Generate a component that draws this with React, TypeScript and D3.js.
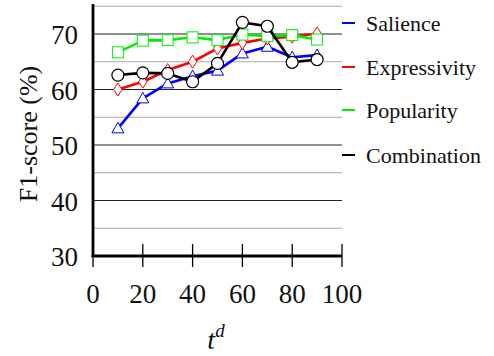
import React from "react";
import * as d3 from "d3";

const xs = [10, 20, 30, 40, 50, 60, 70, 80, 90];
const salience = [53.0, 58.4, 61.1, 62.4, 63.4, 66.5, 67.7, 65.8, 66.2];
const expressivity = [60.0, 61.4, 63.5, 65.0, 67.4, 68.4, 69.2, 69.5, 70.1];
const popularity = [66.7, 68.8, 68.9, 69.4, 68.9, 69.9, 69.6, 69.8, 69.0];
const combination = [62.6, 63.0, 62.9, 61.4, 64.7, 72.1, 71.4, 64.9, 65.4];
const xTicks = [0, 20, 40, 60, 80, 100];
const yTicks = [30, 40, 50, 60, 70];
const gridValues = [35, 40, 45, 50, 55, 60, 65, 70, 75];
const seriesNames = ["Salience", "Expressivity", "Popularity", "Combination"];

const colors = ["#0000ff", "#ff0000", "#00ee00", "#000000"];
const markers = ["triangle", "diamond", "square", "circle"];

export default function App() {
  const x = d3.scaleLinear().domain([0, 100]).range([93, 342]);
  const y = d3.scaleLinear().domain([30, 75]).range([256, 6.25]);
  const data = [salience, expressivity, popularity, combination];
  const line = d3
    .line<[number, number]>()
    .x((d) => x(d[0]))
    .y((d) => y(d[1]));
  const font = "Liberation Serif";

  const marker = (kind: string, cx: number, cy: number, color: string, key: string) => {
    if (kind === "circle")
      return <circle key={key} cx={cx} cy={cy} r={6} fill="white" stroke={color} strokeWidth={1.2} />;
    if (kind === "square")
      return <rect key={key} x={cx - 5.5} y={cy - 5.5} width={11} height={11} fill="white" stroke={color} strokeWidth={1} />;
    if (kind === "diamond")
      return (
        <path key={key} d={`M${cx},${cy - 6.5}L${cx + 4.2},${cy}L${cx},${cy + 6.5}L${cx - 4.2},${cy}Z`} fill="white" stroke={color} strokeWidth={1} />
      );
    return (
      <path key={key} d={`M${cx},${cy - 6}L${cx + 6},${cy + 4.5}L${cx - 6},${cy + 4.5}Z`} fill="white" stroke={color} strokeWidth={1} />
    );
  };

  const legendY = [23, 67, 110, 155];

  return (
    <svg width={494} height={356} style={{ position: "absolute", left: 0, top: 0, fontFamily: font }}>
      <rect width={494} height={356} fill="white" />
      {gridValues.map((v) => (
        <line
          key={v}
          x1={x(0)}
          x2={x(100)}
          y1={y(v)}
          y2={y(v)}
          stroke={v % 10 === 0 ? "#222" : "#aaa"}
          strokeWidth={1.2}
        />
      ))}
      <line x1={x(0)} x2={x(0)} y1={4} y2={257} stroke="black" strokeWidth={2.8} />
      <line x1={x(0) - 1.4} x2={x(100)} y1={256} y2={256} stroke="black" strokeWidth={2.8} />
      {xTicks.map((t) => (
        <line key={t} x1={x(t)} x2={x(t)} y1={t === 0 ? 256 : 244} y2={267} stroke="black" strokeWidth={1.3} />
      ))}
      {xTicks.map((t) => (
        <text key={t} x={x(t)} y={303} fontSize={27} fontFamily={font} textAnchor="middle" fill="#111">
          {t}
        </text>
      ))}
      {yTicks.map((t) => (
        <text key={t} x={78} y={y(t) + 10} fontSize={27} fontFamily={font} textAnchor="end" fill="#111">
          {t}
        </text>
      ))}
      <text
        transform={`translate(37,134) rotate(-90)`}
        fontSize={26}
        fontFamily={font}
        textAnchor="middle"
        fill="#111"
      >
        F1-score (%)
      </text>
      <text x={216} y={349} fontSize={28} fontFamily={font} textAnchor="middle" fill="#111">
        <tspan fontStyle="italic">t</tspan>
        <tspan fontStyle="italic" fontSize={19} dy={-12}>d</tspan>
      </text>
      {data.map((vals, i) => {
        const pts = xs.map((v, j) => [v, vals[j]] as [number, number]);
        return (
          <g key={i}>
            <path d={line(pts) || ""} fill="none" stroke={colors[i]} strokeWidth={2.6} strokeLinejoin="round" />
            {pts.map((p, j) => marker(markers[i], x(p[0]), y(p[1]), colors[i], `${i}-${j}`))}
          </g>
        );
      })}
      {seriesNames.map((name, i) => (
        <g key={name}>
          <line x1={342} x2={355} y1={legendY[i]} y2={legendY[i]} stroke={colors[i]} strokeWidth={2} />
          <text x={366} y={legendY[i] + 8} fontSize={22} fontFamily={font} fill="#111">
            {name}
          </text>
        </g>
      ))}
    </svg>
  );
}
